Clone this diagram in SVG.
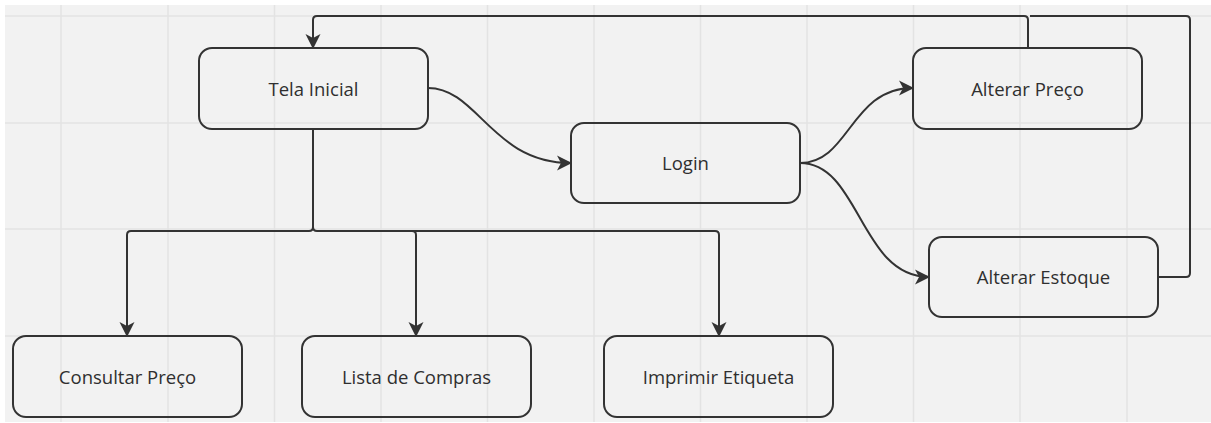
<svg xmlns="http://www.w3.org/2000/svg" width="1211" height="423" viewBox="0 0 1211 423">
  <style>
    .grid { stroke: #e3e3e3; stroke-width: 1.5; }
    .box { fill: none; stroke: #333333; stroke-width: 2; }
    .label { font-family: "Open Sans", "Noto Sans", "Liberation Sans", sans-serif; font-size: 18.5px; fill: #2f2f2f; text-anchor: middle; }
    .edge { fill: none; stroke: #333333; stroke-width: 2; }
  </style>
  <defs>
    <marker id="arrow" markerUnits="userSpaceOnUse" markerWidth="15" markerHeight="16" viewBox="0 0 15 16" refX="14" refY="8" orient="auto">
      <path d="M0,0.5 L15,8 L0,15.5 L4,8 z" fill="#333333"/>
    </marker>
  </defs>

  <!-- canvas -->
  <rect x="0" y="0" width="1211" height="423" fill="#ffffff"/>
  <rect x="5" y="5" width="1206" height="417" fill="#f2f2f2"/>

  <!-- background grid -->
  <g id="grid" class="grid">
    <line x1="61" y1="5" x2="61" y2="422"/>
    <line x1="168" y1="5" x2="168" y2="422"/>
    <line x1="274.5" y1="5" x2="274.5" y2="422"/>
    <line x1="381" y1="5" x2="381" y2="422"/>
    <line x1="487.5" y1="5" x2="487.5" y2="422"/>
    <line x1="594" y1="5" x2="594" y2="422"/>
    <line x1="700.5" y1="5" x2="700.5" y2="422"/>
    <line x1="807" y1="5" x2="807" y2="422"/>
    <line x1="913.5" y1="5" x2="913.5" y2="422"/>
    <line x1="1020" y1="5" x2="1020" y2="422"/>
    <line x1="1127" y1="5" x2="1127" y2="422"/>
    <line x1="5" y1="16" x2="1211" y2="16"/>
    <line x1="5" y1="123" x2="1211" y2="123"/>
    <line x1="5" y1="229" x2="1211" y2="229"/>
    <line x1="5" y1="336" x2="1211" y2="336"/>
  </g>

  <!-- connectors -->
  <g id="connectors">
    <path class="edge" d="M428,88 C478,88 492,163 571,163" marker-end="url(#arrow)"/>
    <path class="edge" d="M800,163 C850,163 850,88 913,88" marker-end="url(#arrow)"/>
    <path class="edge" d="M800,163 C860,163 860,277 929,277" marker-end="url(#arrow)"/>
    <path class="edge" d="M1028,48 V20 Q1028,16 1024,16 H317 Q313,16 313,20 V48" marker-end="url(#arrow)"/>
    <path class="edge" d="M1158,277 H1186 Q1190,277 1190,273 V20 Q1190,16 1186,16 H1030"/>
    <path class="edge" d="M313,129 V227 Q313,231 309,231 H131 Q127,231 127,235 V336" marker-end="url(#arrow)"/>
    <path class="edge" d="M313,129 V227 Q313,231 317,231 H412 Q416,231 416,235 V336" marker-end="url(#arrow)"/>
    <path class="edge" d="M412,231 H715 Q719,231 719,235 V336" marker-end="url(#arrow)"/>
  </g>

  <!-- nodes -->
  <g id="tela-inicial">
    <rect class="box" x="199" y="48" width="229" height="81" rx="13"/>
    <text class="label" x="313.5" y="96">Tela Inicial</text>
  </g>
  <g id="login">
    <rect class="box" x="571" y="123" width="229" height="80" rx="13"/>
    <text class="label" x="685.5" y="170">Login</text>
  </g>
  <g id="alterar-preco">
    <rect class="box" x="913" y="48" width="229" height="81" rx="13"/>
    <text class="label" x="1027.5" y="96">Alterar Preço</text>
  </g>
  <g id="alterar-estoque">
    <rect class="box" x="929" y="237" width="229" height="80" rx="13"/>
    <text class="label" x="1043.5" y="284">Alterar Estoque</text>
  </g>
  <g id="consultar-preco">
    <rect class="box" x="13" y="336" width="229" height="81" rx="13"/>
    <text class="label" x="127.5" y="384">Consultar Preço</text>
  </g>
  <g id="lista-de-compras">
    <rect class="box" x="302" y="336" width="229" height="81" rx="13"/>
    <text class="label" x="416.5" y="384">Lista de Compras</text>
  </g>
  <g id="imprimir-etiqueta">
    <rect class="box" x="604" y="336" width="229" height="81" rx="13"/>
    <text class="label" x="718.5" y="384">Imprimir Etiqueta</text>
  </g>
</svg>
